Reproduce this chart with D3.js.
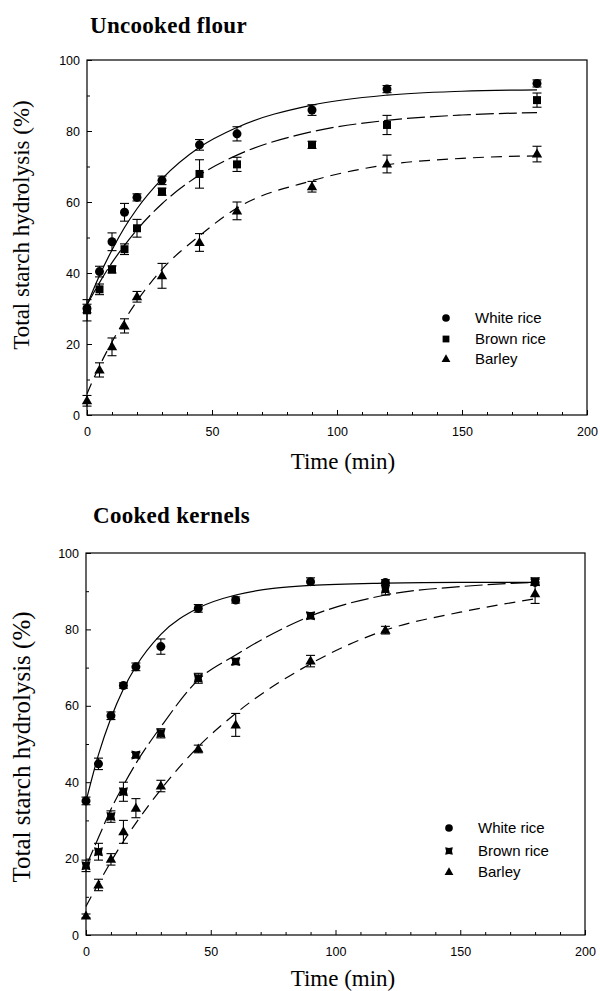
<!DOCTYPE html>
<html>
<head>
<meta charset="utf-8">
<script src="https://cdn.jsdelivr.net/npm/d3@7"></script>
<style>
  body { margin: 0; background: #fff; }
  svg { display: block; }
</style>
</head>
<body>
<svg id="chart" width="600" height="991"></svg>
<script>
// Sampling times (min)
const times = [0, 5, 10, 15, 20, 30, 45, 60, 90, 120, 180];
const fitTimes = [0, 5, 10, 15, 20, 30, 45, 60, 90, 120, 150, 180];
const seriesNames = ['White rice', 'Brown rice', 'Barley'];
const xTicks = [0, 50, 100, 150, 200];
const yTicks = [0, 20, 40, 60, 80, 100];

// Uncooked flour
const flourWhite = [30, 40.4, 48.8, 57.1, 61.3, 66.1, 76.1, 79.2, 85.9, 91.8, 93.4];
const flourWhiteErr = [1.2, 1.5, 2.5, 2.5, 1, 1.2, 1.5, 2, 1.5, 1, 1];
const flourBrown = [29.5, 35.4, 41, 46.7, 52.6, 62.9, 67.9, 70.6, 76.1, 81.7, 88.7];
const flourBrownErr = [3, 1.5, 1, 1.5, 2.5, 1, 4, 2, 1, 2.7, 2];
const flourBarley = [4, 12.7, 19.2, 25.1, 33.3, 39.2, 48.6, 57.5, 64.3, 70.7, 73.5];
const flourBarleyErr = [1.5, 2, 2.5, 2, 1.5, 3.5, 2.5, 2.5, 1.5, 2.5, 2.2];
const flourWhiteFit = [31, 39.3, 46.5, 52.8, 58.1, 66.5, 75.4, 81, 87.3, 90.1, 91.2, 91.6];
const flourBrownFit = [31, 37.3, 42.9, 47.8, 52.2, 59.5, 67.6, 73.2, 79.8, 83, 84.5, 85.2];
const flourBarleyFit = [6, 13.8, 20.6, 26.7, 32.1, 41, 50.5, 58.3, 66, 70.5, 72.3, 73];

// Cooked kernels
const kernelWhite = [35.1, 44.8, 57.4, 65.3, 70.2, 75.5, 85.5, 87.7, 92.5, 92.3, 92.3];
const kernelWhiteErr = [1, 1.5, 1, 0.7, 1, 2, 1, 0.8, 1, 0.7, 0.8];
const kernelBrown = [18.1, 21.8, 31, 37.5, 47.1, 52.8, 67.2, 71.6, 83.6, 90.5, 92.5];
const kernelBrownErr = [1.5, 2.2, 1.5, 2.5, 0.7, 1.2, 1.3, 0.8, 0.8, 1.5, 1];
const kernelBarley = [5, 13.1, 19.8, 27, 33.2, 39, 48.7, 55, 71.7, 79.8, 89.3];
const kernelBarleyErr = [0.5, 1.5, 1.5, 3, 2.5, 1.5, 1, 3, 1.5, 1, 2.5];
const kernelWhiteFit = [35, 47.2, 56.8, 64.4, 70.3, 78.7, 85.6, 89, 91.5, 92.1, 92.3, 92.3];
const kernelBrownFit = [18, 25.5, 32.9, 39.2, 44.9, 54.5, 66.8, 73.3, 83.5, 89, 91.2, 92.3];
const kernelBarleyFit = [7.5, 13.5, 19.2, 24.5, 29.3, 38.1, 49.3, 58, 71, 79.8, 84.5, 88];

const svg = d3.select('#chart');

// marker shapes
const circle = 'M4.5,0A4.5,4.5,0,1,1,-4.5,0A4.5,4.5,0,1,1,4.5,0Z';
const square = 'M-4,-4H4V4H-4Z';
const bowtie = 'M-4.5,-4.5L0,-3.5L4.5,-4.5L3.5,0L4.5,4.5L0,3.5L-4.5,4.5L-3.5,0Z';
const triangle = 'M0,-5.5L5.2,3.5H-5.2Z';

const panels = [
  {
    title: 'Uncooked flour', titleX: 90, titleY: 33,
    x0: 87, x1: 587, y0: 415, y1: 60,
    yLabelX: 29, yLabelY: 225, yLabelSize: 23,
    xLabelY: 469,
    legendX: 446, legendY: [318, 339, 359],
    data: [flourWhite, flourBrown, flourBarley],
    err: [flourWhiteErr, flourBrownErr, flourBarleyErr],
    fit: [flourWhiteFit, flourBrownFit, flourBarleyFit],
    shapes: [circle, square, triangle]
  },
  {
    title: 'Cooked kernels', titleX: 93, titleY: 523,
    x0: 86, x1: 585, y0: 935, y1: 553,
    yLabelX: 30, yLabelY: 747, yLabelSize: 25,
    xLabelY: 986,
    legendX: 449, legendY: [828, 851, 872],
    data: [kernelWhite, kernelBrown, kernelBarley],
    err: [kernelWhiteErr, kernelBrownErr, kernelBarleyErr],
    fit: [kernelWhiteFit, kernelBrownFit, kernelBarleyFit],
    shapes: [circle, bowtie, triangle]
  }
];

const dashes = [null, '18,5', '11,7'];

panels.forEach(p => {
  const x = d3.scaleLinear().domain([0, 200]).range([p.x0, p.x1]);
  const y = d3.scaleLinear().domain([0, 100]).range([p.y0, p.y1]);
  const g = svg.append('g');

  // title
  g.append('text')
    .attr('x', p.titleX).attr('y', p.titleY)
    .style('font-family', '"Liberation Serif", "Times New Roman", serif')
    .style('font-weight', 'bold')
    .style('font-size', '23px')
    .style('letter-spacing', '0.3px')
    .text(p.title);

  // frame
  g.append('rect')
    .attr('x', p.x0).attr('y', p.y1)
    .attr('width', p.x1 - p.x0).attr('height', p.y0 - p.y1)
    .attr('fill', 'none').attr('stroke', '#000').attr('stroke-width', 1.2);

  // x axis (ticks inward)
  const xAxis = g.append('g').attr('transform', `translate(0,${p.y0})`)
    .call(d3.axisTop(x).tickValues(d3.range(0, 201, 10)).tickSize(3).tickFormat(''));
  xAxis.select('.domain').remove();
  xAxis.selectAll('.tick line').attr('y2', d => d % 50 === 0 ? -5 : -3);
  const xLab = g.append('g').attr('transform', `translate(0,${p.y0})`)
    .call(d3.axisBottom(x).tickValues(xTicks).tickSize(0).tickPadding(12));
  xLab.select('.domain').remove();

  // y axis (ticks inward)
  const yAxis = g.append('g').attr('transform', `translate(${p.x0},0)`)
    .call(d3.axisRight(y).tickValues(d3.range(0, 101, 10)).tickSize(3).tickFormat(''));
  yAxis.select('.domain').remove();
  yAxis.selectAll('.tick line').attr('x2', d => d % 20 === 0 ? 5 : 3);
  const yLab = g.append('g').attr('transform', `translate(${p.x0},0)`)
    .call(d3.axisLeft(y).tickValues(yTicks).tickSize(0).tickPadding(7));
  yLab.select('.domain').remove();

  g.selectAll('.tick text')
    .style('font-family', '"Liberation Sans", Arial, sans-serif')
    .style('font-size', '12.5px')
    .attr('fill', '#000');

  // axis titles
  g.append('text')
    .attr('transform', `translate(${p.yLabelX},${p.yLabelY}) rotate(-90)`)
    .attr('text-anchor', 'middle')
    .style('font-family', '"Liberation Serif", "Times New Roman", serif')
    .style('font-size', p.yLabelSize + 'px')
    .text('Total starch hydrolysis (%)');
  g.append('text')
    .attr('x', 343).attr('y', p.xLabelY)
    .attr('text-anchor', 'middle')
    .style('font-family', '"Liberation Serif", "Times New Roman", serif')
    .style('font-size', '23px')
    .text('Time (min)');

  // fitted curves
  const line = d3.line()
    .x((d, i) => x(fitTimes[i]))
    .y(d => y(d))
    .curve(d3.curveMonotoneX);
  p.fit.forEach((f, s) => {
    g.append('path')
      .datum(f)
      .attr('d', line)
      .attr('fill', 'none')
      .attr('stroke', '#000')
      .attr('stroke-width', 1.2)
      .attr('stroke-dasharray', dashes[s]);
  });

  // error bars + markers
  p.data.forEach((vals, s) => {
    const pts = vals.map((v, i) => ({ t: times[i], v: v, e: p.err[s][i] }));
    const eg = g.append('g').attr('stroke', '#000').attr('stroke-width', 1.1);
    eg.selectAll('line.v').data(pts).enter().append('line')
      .attr('x1', d => x(d.t)).attr('x2', d => x(d.t))
      .attr('y1', d => y(d.v - d.e)).attr('y2', d => y(d.v + d.e));
    eg.selectAll('line.top').data(pts).enter().append('line')
      .attr('x1', d => x(d.t) - 4.5).attr('x2', d => x(d.t) + 4.5)
      .attr('y1', d => y(d.v + d.e)).attr('y2', d => y(d.v + d.e));
    eg.selectAll('line.bot').data(pts).enter().append('line')
      .attr('x1', d => x(d.t) - 4.5).attr('x2', d => x(d.t) + 4.5)
      .attr('y1', d => y(d.v - d.e)).attr('y2', d => y(d.v - d.e));

    g.selectAll(null).data(pts).enter().append('path')
      .attr('d', p.shapes[s])
      .attr('transform', d => `translate(${x(d.t)},${y(d.v)})`)
      .attr('fill', '#000');
  });

  // legend
  seriesNames.forEach((name, s) => {
    g.append('path')
      .attr('d', p.shapes[s])
      .attr('transform', `translate(${p.legendX},${p.legendY[s]}) scale(0.85)`)
      .attr('fill', '#000');
    g.append('text')
      .attr('x', p.legendX + 29).attr('y', p.legendY[s] + 5)
      .style('font-family', '"Liberation Sans", Arial, sans-serif')
      .style('font-size', '15px')
      .text(name);
  });
});
</script>
</body>
</html>
